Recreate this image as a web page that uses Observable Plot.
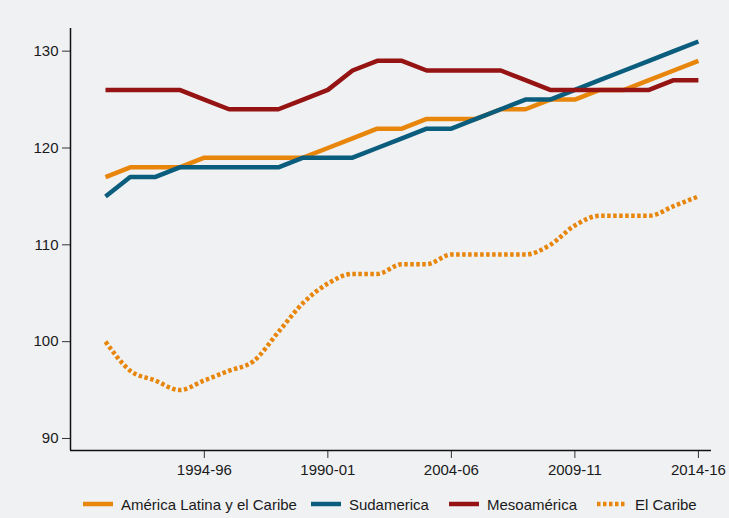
<!DOCTYPE html>
<html>
<head>
<meta charset="utf-8">
<script src="https://cdn.jsdelivr.net/npm/d3@7"></script>
<script src="https://cdn.jsdelivr.net/npm/@observablehq/plot@0.6"></script>
<style>
  html, body { margin: 0; padding: 0; background: #f0f1f3; }
  body { width: 729px; height: 518px; overflow: hidden; font-family: "Liberation Sans", Arial, sans-serif; }
  #legend { display: flex; align-items: center; padding-left: 83px; height: 28px; font-size: 15px; color: #1a1a1a; }
  #legend .item { display: flex; align-items: center; }
  #legend svg { margin-right: 8px; }
</style>
</head>
<body>
<div id="chart"></div>
<div id="legend"></div>
<script>
const periods = ["1990-92","1991-93","1992-94","1993-95","1994-96","1995-97","1996-98","1997-99","1998-00","1999-01","2000-02","2001-03","2002-04","2003-05","2004-06","2005-07","2006-08","2007-09","2008-10","2009-11","2010-12","2011-13","2012-14","2013-15","2014-16"];
const tickIndex = [4, 9, 14, 19, 24];
const tickLabels = ["1994-96","1990-01","2004-06","2009-11","2014-16"];
const seriesNames = ["América Latina y el Caribe","Sudamerica","Mesoamérica","El Caribe"];
const alc = [117,118,118,118,119,119,119,119,119,120,121,122,122,123,123,123,124,124,125,125,126,126,127,128,129];
const sud = [115,117,117,118,118,118,118,118,119,119,119,120,121,122,122,123,124,125,125,126,127,128,129,130,131];
const meso = [126,126,126,126,125,124,124,124,125,126,128,129,129,128,128,128,128,127,126,126,126,126,126,127,127];
const caribe = [100,97,96,95,96,97,98,101,104,106,107,107,108,108,109,109,109,109,110,112,113,113,113,114,115];
const yTicks = [90,100,110,120,130];

const colors = ["#e8860c","#0b5d7e","#951313","#e8860c"];
const dashes = [null,null,null,"3.5,2.5"];

const all = [alc, sud, meso, caribe];
const rows = [];
all.forEach((arr, s) => arr.forEach((v, i) => rows.push({s: seriesNames[s], i, period: periods[i], v})));

const lineMark = (k) => Plot.line(rows.filter(d => d.s === seriesNames[k]), {
  x: "i", y: "v",
  stroke: colors[k], strokeWidth: 4.5,
  strokeDasharray: dashes[k] || undefined,
  strokeLinecap: "butt",
  strokeLinejoin: k === 3 ? "miter" : "round",
  curve: k === 3 ? "monotone-x" : "linear"
});

const chart = Plot.plot({
  width: 729,
  height: 490,
  marginLeft: 70,
  marginRight: 18,
  marginTop: 28,
  marginBottom: 40,
  style: {background: "#f0f1f3", fontFamily: "'Liberation Sans', Arial, sans-serif", fontSize: "15px", color: "#1a1a1a"},
  x: {domain: [-1.417, 24.53], axis: null},
  y: {domain: [88.76, 132.34], axis: null},
  marks: [
    Plot.axisY({ticks: yTicks, tickSize: 8, tickPadding: 4, tickFormat: d => String(d), stroke: "#333", fontSize: 15, label: null}),
    Plot.axisX({ticks: tickIndex, tickSize: 8, tickPadding: 6, tickFormat: d => tickLabels[tickIndex.indexOf(d)], stroke: "#333", fontSize: 15, label: null}),
    Plot.ruleX([-1.417], {stroke: "#111", strokeWidth: 1.5}),
    Plot.ruleY([88.76], {stroke: "#111", strokeWidth: 1.5}),
    lineMark(0), lineMark(1), lineMark(2), lineMark(3)
  ]
});
document.getElementById("chart").appendChild(chart);

const legend = document.getElementById("legend");
seriesNames.forEach((name, k) => {
  const item = document.createElement("div");
  item.className = "item";
  item.style.marginRight = k === 0 ? "14px" : "20px";
  item.innerHTML = `<svg width="30" height="8"><line x1="0" y1="4" x2="30" y2="4" stroke="${colors[k]}" stroke-width="4.5" ${dashes[k] ? `stroke-dasharray="${dashes[k]}"` : ""}/></svg><span>${name}</span>`;
  legend.appendChild(item);
});
</script>
</body>
</html>
